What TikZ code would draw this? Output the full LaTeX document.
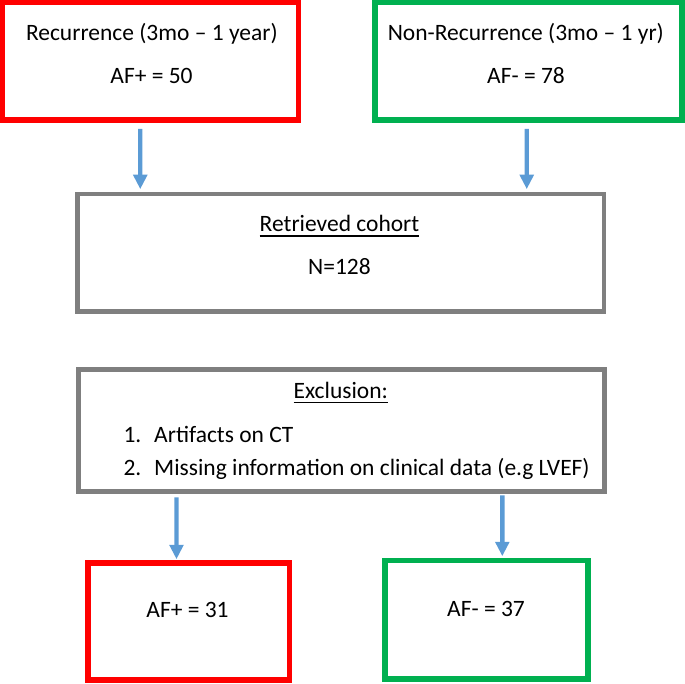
\documentclass[tikz,border=0pt]{standalone}
\usepackage{fontspec}
\setmainfont{Carlito}
\usetikzlibrary{arrows.meta}
\definecolor{afred}{HTML}{FF0000}
\definecolor{afgreen}{HTML}{00B050}
\definecolor{afgray}{HTML}{7F7F7F}
\definecolor{afblue}{HTML}{5B9BD5}
\newcommand{\undl}[1]{\setbox0=\hbox{#1}\rlap{\rule[-3.5pt]{\wd0}{1pt}}\box0}

\begin{document}
\begin{tikzpicture}[x=0.025cm,y=-0.025cm]

\tikzstyle{redbox} = [rectangle, draw=afred, line width=0.14cm, minimum height=2.94cm]
\tikzstyle{grnbox} = [rectangle, draw=afgreen, line width=0.14cm, minimum height=2.94cm]
\tikzstyle{graybox} = [rectangle, draw=afgray, line width=0.12cm, minimum width=13.16cm]
\tikzstyle{lbl} = [inner sep=0pt, anchor=base, font=\fontsize{16.7}{20}\selectfont]
\tikzstyle{item} = [lbl, anchor=base west]
\tikzstyle{arr} = [draw=afblue, line width=0.11cm, -{Triangle[length=0.36cm,width=0.34cm]}]

\useasboundingbox (0,0) rectangle (685,684);

\node (recBox) [redbox, minimum width=7.4cm] at (150.5,61.25) {};
\node (nonBox) [grnbox, minimum width=7.675cm] at (528.5,61.25) {};
\node (retBox) [graybox, minimum height=2.94cm] at (340.75,252.75) {};
\node (exclBox) [graybox, minimum height=3.06cm] at (341.5,430.5) {};
\node (posBox) [redbox, minimum width=5.04cm, minimum height=2.925cm] at (188.8,621.5) {};
\node (negBox) [grnbox, minimum width=5.075cm, minimum height=2.96cm] at (486.5,619.8) {};

\node (recTitle) [lbl] at (151.8,40) {Recurrence (3mo – 1 year)};
\node (recCount) [lbl] at (151.5,83) {AF+ = 50};
\node (nonTitle) [lbl] at (525.8,40) {Non-Recurrence (3mo – 1 yr)};
\node (nonCount) [lbl] at (526,83) {AF- = 78};
\node (retTitle) [lbl] at (339.5,231.7) {\undl{Retrieved cohort}};
\node (retCount) [lbl] at (339.5,274) {N=128};
\node (exclTitle) [lbl] at (340.8,398.3) {\undl{Exclusion:}};
\node (exclA) [item] at (123.3,442.7) {\makebox[21.8pt][l]{1.}Artifacts on CT};
\node (exclB) [item] at (123.3,475) {\makebox[21.8pt][l]{2.}Missing information on clinical data (e.g LVEF)};
\node (posCount) [lbl] at (187.5,617.7) {AF+ = 31};
\node (negCount) [lbl] at (486,616.7) {AF- = 37};

\draw[arr, shorten <=0.15cm, shorten >=0.06cm] ([xshift=-0.255cm]recBox.south) -- ([xshift=-5.011cm]retBox.north);
\draw[arr, shorten <=0.15cm, shorten >=0.06cm] ([xshift=-0.045cm]nonBox.south) -- ([xshift=4.649cm]retBox.north);
\draw[arr, shorten <=0.08cm, shorten >=0.025cm] ([xshift=-4.125cm]exclBox.south) -- ([xshift=-0.3075cm]posBox.north);
\draw[arr, shorten <=0.03cm, shorten >=0.04cm] ([xshift=4.02cm]exclBox.south) -- ([xshift=0.395cm]negBox.north);
\end{tikzpicture}
\end{document}
